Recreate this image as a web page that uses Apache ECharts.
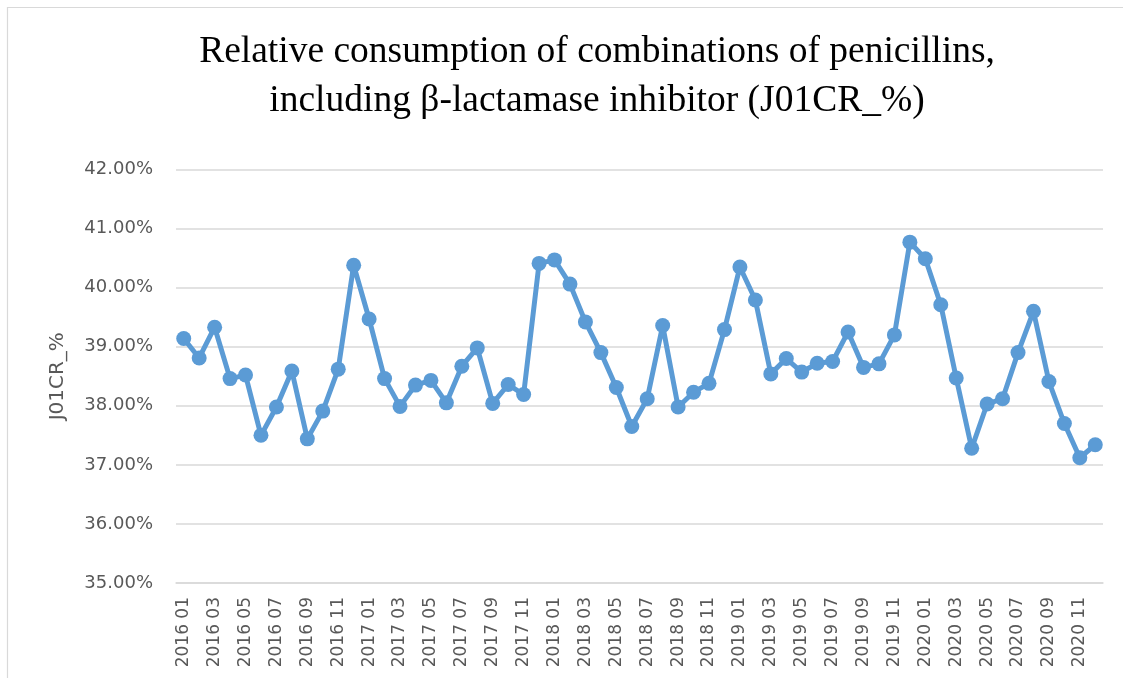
<!DOCTYPE html>
<html>
<head>
<meta charset="utf-8">
<script src="https://cdn.jsdelivr.net/npm/echarts@6/dist/echarts.min.js"></script>
<style>
  html, body { margin: 0; padding: 0; background: #fff; }
  #chart { width: 1123px; height: 678px; }
</style>
</head>
<body>
<div id="chart"></div>
<script>
// Monthly periods, 2016 01 .. 2020 12
const years = ['2016', '2017', '2018', '2019', '2020'];
const months = ['01', '02', '03', '04', '05', '06', '07', '08', '09', '10', '11', '12'];
const periods = [];
years.forEach(y => months.forEach(m => periods.push(y + ' ' + m)));

// Relative consumption J01CR (%)
const j01crPct = [
  39.14, 38.81, 39.33, 38.46, 38.52, 37.50, 37.98, 38.59, 37.44, 37.91, 38.62, 40.38,
  39.47, 38.46, 37.99, 38.35, 38.43, 38.05, 38.67, 38.98, 38.04, 38.36, 38.19, 40.41,
  40.47, 40.06, 39.42, 38.90, 38.31, 37.65, 38.12, 39.36, 37.98, 38.23, 38.38, 39.29,
  40.35, 39.79, 38.54, 38.80, 38.57, 38.72, 38.75, 39.25, 38.65, 38.71, 39.20, 40.77,
  40.49, 39.71, 38.47, 37.28, 38.03, 38.12, 38.90, 39.60, 38.41, 37.70, 37.12, 37.34
];

const titleLines = [
  'Relative consumption of combinations of penicillins,',
  'including \u03b2-lactamase inhibitor (J01CR_%)'
];
const yAxisName = 'J01CR_%';

const chart = echarts.init(document.getElementById('chart'), null, { renderer: 'canvas' });
chart.setOption({
  animation: false,
  backgroundColor: '#ffffff',
  graphic: [{
    type: 'rect',
    shape: { x: 7.5, y: 7.5, width: 1130, height: 700 },
    style: { fill: 'none', stroke: '#d9d9d9', lineWidth: 1.2 },
    silent: true
  }],
  title: {
    text: titleLines.join('\n'),
    left: 592,
    textAlign: 'center',
    top: 23,
    textStyle: {
      fontFamily: 'Liberation Serif',
      fontWeight: 'normal',
      fontSize: 37.5,
      lineHeight: 49,
      color: '#000000'
    }
  },
  grid: { left: 176, right: 20, top: 169.5, bottom: 95, containLabel: false },
  xAxis: {
    type: 'category',
    data: periods,
    boundaryGap: true,
    axisLine: { lineStyle: { color: '#d9d9d9', width: 1.5 } },
    axisTick: { show: false },
    axisLabel: {
      interval: 1,
      rotate: 90,
      margin: 14,
      fontFamily: 'DejaVu Sans',
      fontSize: 17,
      color: '#595959'
    }
  },
  yAxis: {
    type: 'value',
    min: 35,
    max: 42,
    interval: 1,
    name: yAxisName,
    nameLocation: 'middle',
    nameGap: 108,
    nameTextStyle: { fontFamily: 'DejaVu Sans', fontSize: 20, color: '#595959' },
    axisLine: { show: false },
    axisTick: { show: false },
    splitLine: { lineStyle: { color: '#d9d9d9', width: 1.5 } },
    axisLabel: {
      margin: 23,
      fontFamily: 'DejaVu Sans',
      fontSize: 18,
      color: '#595959',
      formatter: v => v.toFixed(2) + '%'
    }
  },
  series: [{
    type: 'line',
    data: j01crPct,
    symbol: 'circle',
    symbolSize: 15,
    showAllSymbol: true,
    lineStyle: { color: '#5b9bd5', width: 5 },
    itemStyle: { color: '#5b9bd5' }
  }]
});
</script>
</body>
</html>
